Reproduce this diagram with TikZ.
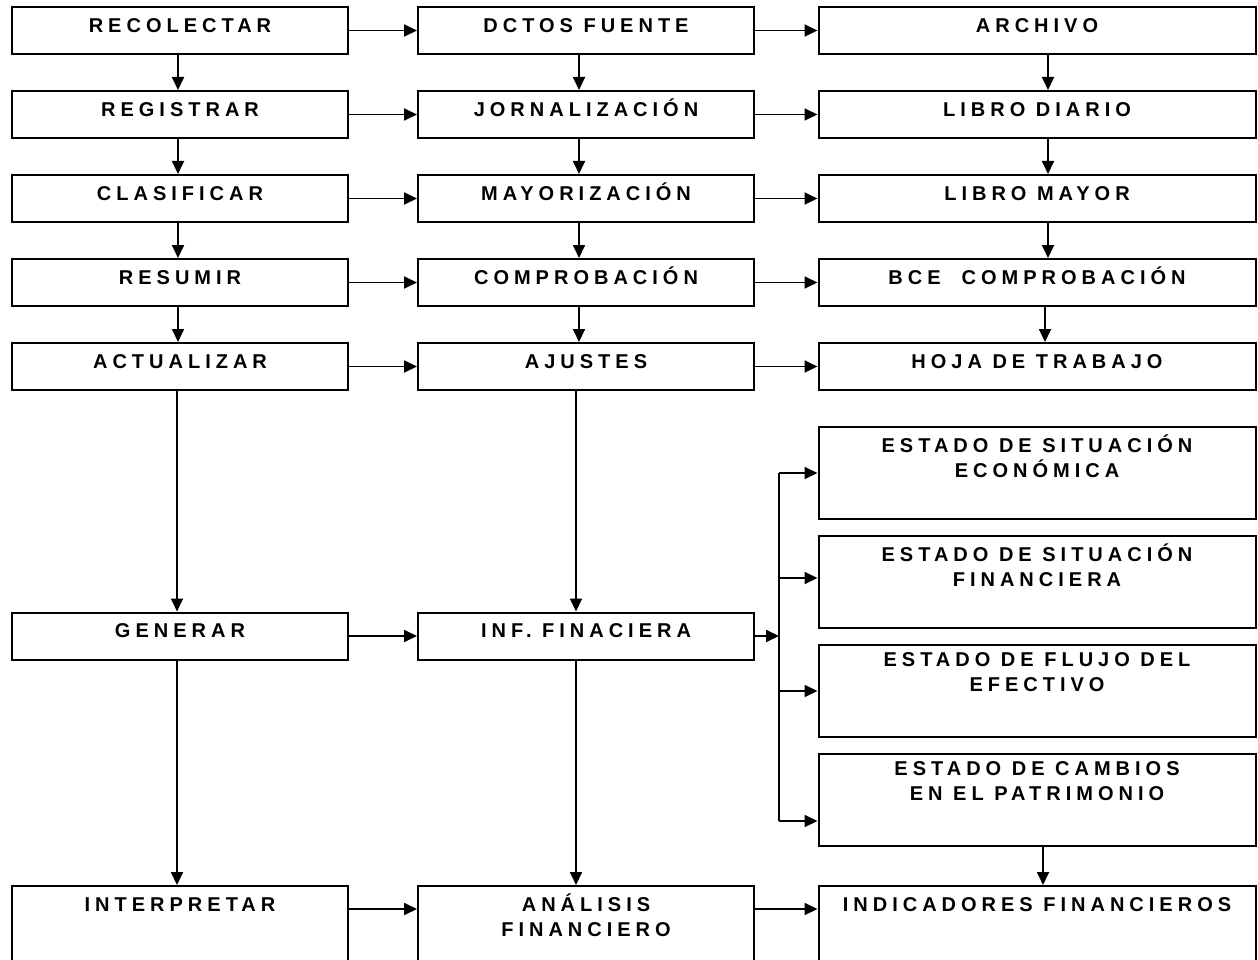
\documentclass[tikz,border=0pt]{standalone}
\usepackage{fontspec}
\newfontfamily\cajafont{Liberation Sans Bold}[LetterSpace=25]
\usetikzlibrary{arrows.meta,positioning}

\begin{document}
\begin{tikzpicture}[x=1pt,y=-1pt,node distance=84pt,on grid,>={Triangle[length=13pt,width=12pt]},
		lbl/.style={anchor=north,yshift=-8.5pt,inner sep=0pt,align=center,
			font=\cajafont\fontsize{20}{25}\selectfont,execute at begin node={\vphantom{Á}}},
		box/.style={rectangle,draw=black,line width=2pt,inner sep=0pt,
			minimum width=336pt,minimum height=47pt,label={[lbl]north:#1}},
		wide/.style={minimum width=437pt},
		tall/.style={minimum height=92pt},
		line/.style={line width=1.8pt}]
	\useasboundingbox[fill=white] (0,0) rectangle (1258,960);
	% primera columna
	\node[box=RECOLECTAR]        (rec) at (180,30.5)          {};
	\node[box=REGISTRAR]         (reg) [below=of rec]         {};
	\node[box=CLASIFICAR]        (cla) [below=of reg]         {};
	\node[box=RESUMIR]           (res) [below=of cla]         {};
	\node[box=ACTUALIZAR]        (act) [below=of res]         {};
	\node[box=GENERAR]           (gen) [below=269.5pt of act] {};
	\node[box=INTERPRETAR,tall]  (int) [below=296pt of gen]   {};
	% segunda columna
	\node[box=DCTOS FUENTE]      (dct) [right=406pt of rec]   {};
	\node[box=JORNALIZACIÓN]     (jor) [below=of dct]         {};
	\node[box=MAYORIZACIÓN]      (may) [below=of jor]         {};
	\node[box=COMPROBACIÓN]      (com) [below=of may]         {};
	\node[box=AJUSTES]           (aju) [below=of com]         {};
	\node[box=INF. FINACIERA]    (inf) [right=406pt of gen]   {};
	\node[box={ANÁLISIS\\FINANCIERO},tall] (ana) [right=406pt of int] {};
	% tercera columna
	\node[box=ARCHIVO,wide]      (arc) [right=451pt of dct]   {};
	\node[box=LIBRO DIARIO,wide] (ldi) [below=of arc]         {};
	\node[box=LIBRO MAYOR,wide]  (lma) [below=of ldi]         {};
	\node[box=BCE\ \ COMPROBACIÓN,wide] (bce) [below=of lma]  {};
	\node[box=HOJA DE TRABAJO,wide] (hoj) [below=of bce]      {};
	\node[box={ESTADO DE SITUACIÓN\\ECONÓMICA},wide,tall]   (est1) [below=106.5pt of hoj] {};
	\node[box={ESTADO DE SITUACIÓN\\FINANCIERA},wide,tall]  (est2) [below=109pt of est1]  {};
	\node[box={ESTADO DE FLUJO DEL\\EFECTIVO},wide,tall]    (est3) [below=109pt of est2]  {};
	\node[box={ESTADO DE CAMBIOS\\EN EL PATRIMONIO},wide,tall] (est4) [below=109pt of est3] {};
	\node[box=INDICADORES FINANCIEROS,wide,tall] (ind) [right=451pt of ana] {};

	\coordinate (fork) at ([xshift=24pt]inf.east);
	\coordinate (e2) at ([yshift=4pt]est2.west);
	\coordinate (e4) at ([yshift=-21pt]est4.west);
	\draw[line] (fork |- est1.west) -- (fork |- e4);

	\path[->,line]
	(rec) edge (dct) (dct) edge (arc)
	(reg) edge (jor) (jor) edge (ldi)
	(cla) edge (may) (may) edge (lma)
	(res) edge (com) (com) edge (bce)
	(act) edge (aju) (aju) edge (hoj)
	(gen) edge (inf) (inf) edge (fork)
	([yshift=-24pt]int.north east) edge ([yshift=-24pt]ana.north west)
	([yshift=-24pt]ana.north east) edge ([yshift=-24pt]ind.north west)
	% bajadas
	([xshift=-2pt]rec.south) edge ([xshift=-2pt]reg.north)
	([xshift=-2pt]reg.south) edge ([xshift=-2pt]cla.north)
	([xshift=-2pt]cla.south) edge ([xshift=-2pt]res.north)
	([xshift=-2pt]res.south) edge ([xshift=-2pt]act.north)
	([xshift=-3pt]act.south) edge ([xshift=-3pt]gen.north)
	([xshift=-3pt]gen.south) edge ([xshift=-3pt]int.north)
	([xshift=-7pt]dct.south) edge ([xshift=-7pt]jor.north)
	([xshift=-7pt]jor.south) edge ([xshift=-7pt]may.north)
	([xshift=-7pt]may.south) edge ([xshift=-7pt]com.north)
	([xshift=-7pt]com.south) edge ([xshift=-7pt]aju.north)
	([xshift=-10pt]aju.south) edge ([xshift=-10pt]inf.north)
	([xshift=-10pt]inf.south) edge ([xshift=-10pt]ana.north)
	([xshift=11pt]arc.south) edge ([xshift=11pt]ldi.north)
	([xshift=11pt]ldi.south) edge ([xshift=11pt]lma.north)
	([xshift=11pt]lma.south) edge ([xshift=11pt]bce.north)
	([xshift=8pt]bce.south) edge ([xshift=8pt]hoj.north)
	([xshift=6pt]est4.south) edge ([xshift=6pt]ind.north)
	% abanico
	(fork |- est1.west) edge (est1.west)
	(fork |- e2) edge (e2)
	(fork |- est3.west) edge (est3.west)
	(fork |- e4) edge (e4);
\end{tikzpicture}
\end{document}
